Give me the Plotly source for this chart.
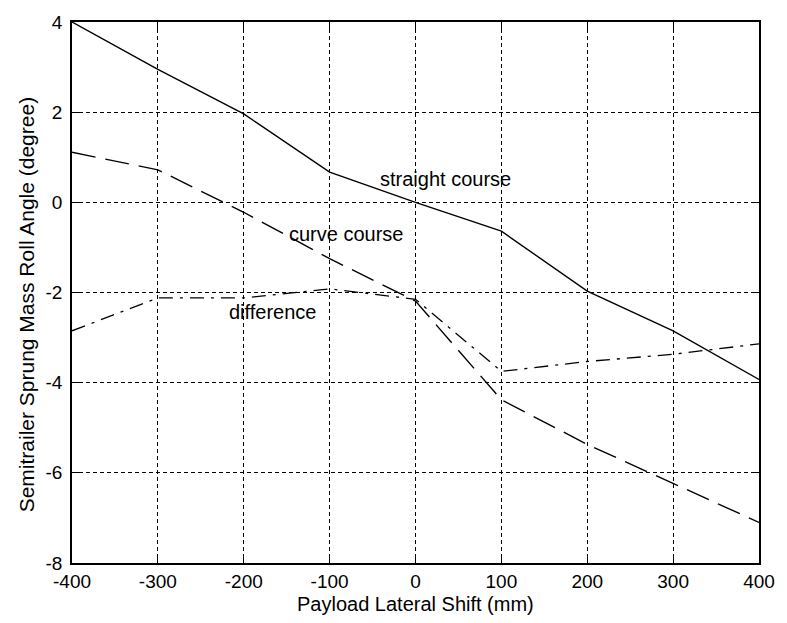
import plotly.graph_objects as go

shift_mm = [-400, -300, -200, -100, 0, 100, 200, 300, 400]
straight_course = [4.0, 2.95, 1.96, 0.67, 0.0, -0.64, -1.97, -2.85, -3.93]
curve_course = [1.11, 0.72, -0.22, -1.25, -2.19, -4.38, -5.37, -6.24, -7.1]
difference = [-2.85, -2.12, -2.12, -1.92, -2.15, -3.75, -3.53, -3.37, -3.14]

x_ticks = [-400, -300, -200, -100, 0, 100, 200, 300, 400]
y_ticks = [-8, -6, -4, -2, 0, 2, 4]

font_fam = "Liberation Sans, Arial, Helvetica"

fig = go.Figure()
fig.add_trace(go.Scatter(x=shift_mm, y=straight_course, mode="lines",
                         line=dict(color="black", width=1.4, dash="solid"),
                         name="straight course"))
fig.add_trace(go.Scatter(x=shift_mm, y=curve_course, mode="lines",
                         line=dict(color="black", width=1.4, dash="24px,10px"),
                         name="curve course"))
fig.add_trace(go.Scatter(x=shift_mm, y=difference, mode="lines",
                         line=dict(color="black", width=1.3, dash="14px,7px,3px,7px"),
                         name="difference"))

labels = [("straight course", 35, 0.51), ("curve course", -80, -0.71), ("difference", -167, -2.43)]
for txt, lx, ly in labels:
    fig.add_annotation(x=lx, y=ly, text=txt, showarrow=False,
                       font=dict(family=font_fam, size=20, color="black"))

# axis titles as annotations for precise placement
fig.add_annotation(xref="paper", yref="paper", x=0.5, y=-0.075, yanchor="middle",
                   text="Payload Lateral Shift (mm)", showarrow=False,
                   font=dict(family=font_fam, size=20, color="black"))
fig.add_annotation(xref="paper", yref="paper", x=-0.067, y=0.478, xanchor="center",
                   yanchor="middle", textangle=-90,
                   text="Semitrailer Sprung Mass Roll Angle (degree)", showarrow=False,
                   font=dict(family=font_fam, size=21, color="black"))

axis_common = dict(showline=True, linecolor="black", linewidth=1.5, mirror="ticks",
                   ticks="inside", ticklen=7, tickcolor="black", tickwidth=1,
                   showgrid=True, gridcolor="black", gridwidth=1, griddash="4px,3px",
                   zeroline=False, tickfont=dict(family=font_fam, size=19, color="black"))

fig.update_xaxes(range=[-400, 400], tickvals=x_ticks, ticktext=[str(v) for v in x_ticks],
                 **axis_common)
fig.update_yaxes(range=[-8, 4], tickvals=y_ticks, ticktext=[str(v) for v in y_ticks],
                 ticklabelstandoff=4, **axis_common)

fig.update_layout(width=787, height=623, showlegend=False,
                  plot_bgcolor="white", paper_bgcolor="white",
                  margin=dict(l=72, r=19, t=15, b=60))

fig.write_html("out.html", config={"displayModeBar": False},
               post_script="document.body.style.margin='0';document.body.style.overflow='hidden';")
